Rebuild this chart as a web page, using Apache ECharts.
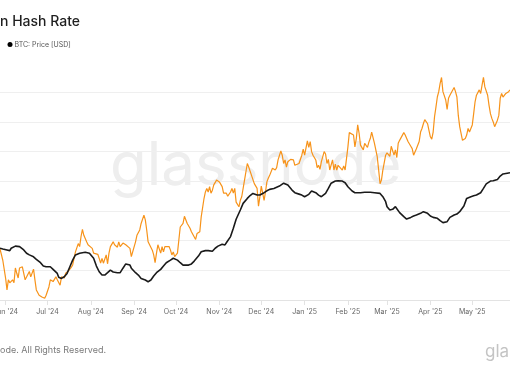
<!DOCTYPE html>
<html>
<head>
<meta charset="utf-8">
<script src="https://cdn.jsdelivr.net/npm/echarts@6/dist/echarts.min.js"></script>
<style>
html,body{margin:0;padding:0;background:#fff;}
#chart{width:510px;height:369px;}
</style>
</head>
<body>
<div id="chart"></div>
<script>
// ---- data ----
const titleText = "n Hash Rate";
const priceName = "BTC: Price [USD]";
const footerText = "ode. All Rights Reserved.";
const logoText = "gla";
const watermarkText = "glassnode";
const monthNames = ["Jan","Feb","Mar","Apr","May","Jun","Jul","Aug","Sep","Oct","Nov","Dec"];
const xRange = ["2024-05-28", "2025-05-28"];
const hashAxis = [550, 950, 50];      // EH/s, hidden labels
const priceAxis = [45000, 145000];    // USD, hidden labels

// Bitcoin hash rate (EH/s)
const hashRate = [
["2024-05-28",636],["2024-05-30",617],["2024-06-01",587],["2024-06-02",567],["2024-06-03",584],["2024-06-04",579],
["2024-06-06",584],["2024-06-07",579],["2024-06-08",604],["2024-06-09",595],["2024-06-10",587],["2024-06-11",604],
["2024-06-13",606],["2024-06-14",595],["2024-06-15",584],["2024-06-16",584],["2024-06-18",598],["2024-06-19",589],
["2024-06-21",602],["2024-06-22",584],["2024-06-23",567],["2024-06-25",558],["2024-06-27",555],["2024-06-29",553],
["2024-06-30",558],["2024-07-02",572],["2024-07-03",584],["2024-07-04",587],["2024-07-05",581],["2024-07-07",589],
["2024-07-08",584],["2024-07-10",575],["2024-07-11",589],["2024-07-13",587],["2024-07-14",595],["2024-07-16",599],
["2024-07-18",605],["2024-07-19",609],["2024-07-21",631],["2024-07-23",645],["2024-07-24",640],["2024-07-25",657],
["2024-07-26",669],["2024-07-27",659],["2024-07-29",648],["2024-07-30",643],["2024-07-31",645],["2024-08-02",637],
["2024-08-03",629],["2024-08-04",627],["2024-08-06",627],["2024-08-07",620],["2024-08-08",612],["2024-08-09",620],
["2024-08-10",612],["2024-08-12",626],["2024-08-13",611],["2024-08-14",629],["2024-08-15",640],["2024-08-17",648],
["2024-08-18",643],["2024-08-20",639],["2024-08-21",648],["2024-08-22",640],["2024-08-24",646],["2024-08-26",643],
["2024-08-27",645],["2024-08-29",637],["2024-08-30",623],["2024-08-31",620],["2024-09-02",648],["2024-09-03",659],
["2024-09-04",657],["2024-09-05",668],["2024-09-06",679],["2024-09-08",693],["2024-09-09",685],["2024-09-10",668],
["2024-09-11",648],["2024-09-12",646],["2024-09-14",634],["2024-09-15",626],["2024-09-16",613],["2024-09-17",629],
["2024-09-18",643],["2024-09-20",629],["2024-09-21",640],["2024-09-22",631],["2024-09-23",640],["2024-09-24",637],
["2024-09-26",640],["2024-09-27",634],["2024-09-28",626],["2024-09-29",631],["2024-09-30",623],["2024-10-02",629],
["2024-10-03",651],["2024-10-04",673],["2024-10-06",679],["2024-10-07",691],["2024-10-08",688],["2024-10-09",679],
["2024-10-10",682],["2024-10-11",671],["2024-10-12",665],["2024-10-13",662],["2024-10-15",652],["2024-10-16",662],
["2024-10-17",665],["2024-10-18",665],["2024-10-19",690],["2024-10-21",721],["2024-10-22",732],["2024-10-23",738],
["2024-10-24",732],["2024-10-25",741],["2024-10-26",730],["2024-10-27",735],["2024-10-28",744],["2024-10-30",752],
["2024-10-31",755],["2024-11-01",749],["2024-11-03",741],["2024-11-04",730],["2024-11-05",727],["2024-11-06",730],
["2024-11-07",725],["2024-11-09",732],["2024-11-10",738],["2024-11-11",730],["2024-11-12",738],["2024-11-13",715],
["2024-11-15",707],["2024-11-16",718],["2024-11-17",724],["2024-11-18",727],["2024-11-19",752],["2024-11-21",780],
["2024-11-22",774],["2024-11-24",760],["2024-11-25",763],["2024-11-26",746],["2024-11-27",744],["2024-11-28",738],
["2024-11-29",708],["2024-11-30",724],["2024-12-01",742],["2024-12-03",718],["2024-12-04",732],["2024-12-05",749],
["2024-12-06",755],["2024-12-07",760],["2024-12-09",772],["2024-12-10",773],["2024-12-11",769],["2024-12-12",773],
["2024-12-13",786],["2024-12-15",801],["2024-12-16",794],["2024-12-17",780],["2024-12-18",786],["2024-12-19",774],
["2024-12-20",783],["2024-12-22",787],["2024-12-24",786],["2024-12-25",777],["2024-12-26",776],["2024-12-28",780],
["2024-12-29",777],["2024-12-30",794],["2024-12-31",804],["2025-01-01",794],["2025-01-03",818],["2025-01-04",807],
["2025-01-05",817],["2025-01-06",800],["2025-01-07",794],["2025-01-09",786],["2025-01-10",773],["2025-01-11",777],
["2025-01-12",770],["2025-01-13",783],["2025-01-15",800],["2025-01-16",796],["2025-01-17",780],["2025-01-18",787],
["2025-01-19",769],["2025-01-21",786],["2025-01-22",769],["2025-01-23",779],["2025-01-24",769],["2025-01-25",777],
["2025-01-26",774],["2025-01-28",769],["2025-01-29",776],["2025-01-30",769],["2025-01-31",769],["2025-02-01",808],
["2025-02-02",832],["2025-02-03",833],["2025-02-05",828],["2025-02-06",808],["2025-02-07",822],["2025-02-08",845],
["2025-02-09",831],["2025-02-10",811],["2025-02-11",808],["2025-02-12",803],["2025-02-13",814],["2025-02-15",807],
["2025-02-16",816],["2025-02-17",822],["2025-02-18",833],["2025-02-19",835],["2025-02-20",814],["2025-02-22",791],
["2025-02-23",769],["2025-02-24",746],["2025-02-25",752],["2025-02-26",769],["2025-02-28",794],["2025-03-01",798],
["2025-03-03",792],["2025-03-04",809],["2025-03-06",794],["2025-03-07",803],["2025-03-08",790],["2025-03-09",814],
["2025-03-10",819],["2025-03-13",832],["2025-03-14",828],["2025-03-15",826],["2025-03-16",817],["2025-03-18",809],
["2025-03-19",805],["2025-03-20",794],["2025-03-21",794],["2025-03-22",805],["2025-03-24",817],["2025-03-25",833],
["2025-03-26",839],["2025-03-27",847],["2025-03-28",854],["2025-03-30",847],["2025-03-31",836],["2025-04-01",825],
["2025-04-02",821],["2025-04-03",833],["2025-04-04",859],["2025-04-05",875],["2025-04-06",892],["2025-04-07",901],
["2025-04-08",915],["2025-04-09",925],["2025-04-10",901],["2025-04-12",887],["2025-04-13",871],["2025-04-14",890],
["2025-04-15",895],["2025-04-16",898],["2025-04-18",908],["2025-04-19",901],["2025-04-20",892],["2025-04-21",861],
["2025-04-22",842],["2025-04-24",819],["2025-04-25",817],["2025-04-26",822],["2025-04-27",828],["2025-04-28",839],
["2025-04-29",833],["2025-05-01",845],["2025-05-02",864],["2025-05-03",884],["2025-05-04",895],["2025-05-06",904],
["2025-05-07",898],["2025-05-08",912],["2025-05-09",925],["2025-05-10",909],["2025-05-12",895],["2025-05-13",878],
["2025-05-14",864],["2025-05-15",856],["2025-05-16",850],["2025-05-17",842],["2025-05-19",853],["2025-05-20",861],
["2025-05-21",890],["2025-05-22",898],["2025-05-23",892],["2025-05-25",898],["2025-05-27",901],["2025-05-28",904]
];

// BTC price (USD)
const btcPrice = [
["2024-05-28",66800],["2024-05-30",66500],["2024-06-02",66100],["2024-06-04",65800],["2024-06-05",66800],["2024-06-08",67700],
["2024-06-09",68500],["2024-06-11",67500],["2024-06-14",66100],["2024-06-16",64700],["2024-06-18",64000],["2024-06-21",63200],
["2024-06-23",62100],["2024-06-26",60700],["2024-06-28",59300],["2024-06-30",59000],["2024-07-03",59000],["2024-07-05",57900],
["2024-07-08",56200],["2024-07-09",54600],["2024-07-11",54100],["2024-07-13",54800],["2024-07-15",56200],["2024-07-17",59000],
["2024-07-19",61800],["2024-07-21",64000],["2024-07-24",64700],["2024-07-28",65100],["2024-07-31",64700],["2024-08-03",62600],
["2024-08-05",59300],["2024-08-07",56900],["2024-08-09",55500],["2024-08-11",55500],["2024-08-13",56500],["2024-08-15",57600],
["2024-08-17",56800],["2024-08-20",56500],["2024-08-22",56500],["2024-08-24",58400],["2024-08-26",60200],["2024-08-29",59700],
["2024-08-30",58400],["2024-09-02",56500],["2024-09-04",55500],["2024-09-06",54100],["2024-09-09",53400],["2024-09-11",52700],
["2024-09-13",53400],["2024-09-15",55100],["2024-09-17",56500],["2024-09-20",57900],["2024-09-22",59300],["2024-09-24",60700],
["2024-09-27",61800],["2024-09-29",62600],["2024-10-02",61800],["2024-10-04",60700],["2024-10-06",59700],["2024-10-10",59700],
["2024-10-12",60200],["2024-10-14",61400],["2024-10-17",63500],["2024-10-19",65300],["2024-10-22",65800],["2024-10-24",65800],
["2024-10-27",65500],["2024-10-29",66800],["2024-10-31",67700],["2024-11-03",68500],["2024-11-05",68200],["2024-11-06",69100],
["2024-11-09",71700],["2024-11-11",75200],["2024-11-13",79000],["2024-11-16",82900],["2024-11-18",85700],["2024-11-21",87800],
["2024-11-23",89000],["2024-11-25",89900],["2024-11-28",89200],["2024-11-30",89200],["2024-12-03",90200],["2024-12-05",91000],
["2024-12-07",91600],["2024-12-10",92000],["2024-12-12",92500],["2024-12-14",93000],["2024-12-17",94200],["2024-12-18",94400],
["2024-12-20",93400],["2024-12-23",91300],["2024-12-25",90200],["2024-12-28",89600],["2024-12-30",89200],["2025-01-01",88500],
["2025-01-04",89500],["2025-01-06",90900],["2025-01-09",90200],["2025-01-11",89200],["2025-01-13",88500],["2025-01-16",89900],
["2025-01-18",92000],["2025-01-20",94200],["2025-01-23",95100],["2025-01-25",95200],["2025-01-28",95100],["2025-01-30",94400],
["2025-02-01",92700],["2025-02-04",90900],["2025-02-06",90200],["2025-02-10",90200],["2025-02-13",90400],["2025-02-17",90400],
["2025-02-20",90200],["2025-02-24",89900],["2025-02-26",88500],["2025-02-28",86400],["2025-03-01",84300],["2025-03-03",82900],
["2025-03-05",83200],["2025-03-07",84300],["2025-03-08",83600],["2025-03-10",81800],["2025-03-13",80100],["2025-03-15",79100],
["2025-03-18",79800],["2025-03-20",80400],["2025-03-22",80800],["2025-03-25",81500],["2025-03-27",82200],["2025-03-30",81500],
["2025-04-01",80400],["2025-04-03",79800],["2025-04-06",79400],["2025-04-08",78400],["2025-04-10",77600],["2025-04-13",78000],
["2025-04-15",79800],["2025-04-18",80800],["2025-04-20",81200],["2025-04-22",82200],["2025-04-25",84600],["2025-04-27",87800],
["2025-04-30",88500],["2025-05-02",88900],["2025-05-04",89200],["2025-05-07",90200],["2025-05-09",92000],["2025-05-11",93900],
["2025-05-14",95100],["2025-05-16",95200],["2025-05-19",95800],["2025-05-21",97200],["2025-05-23",98100],["2025-05-26",98400],
["2025-05-28",98600]
];

// ---- chart ----
const FONT = "Inter, 'Noto Sans', sans-serif";
const chart = echarts.init(document.getElementById('chart'), null, {renderer: 'canvas'});
const DAY = 86400000;

chart.setOption({
  animation: false,
  backgroundColor: '#ffffff',
  textStyle: {fontFamily: FONT},
  title: {
    text: titleText,
    left: 0, top: 15, padding: 0,
    textStyle: {fontFamily: FONT, fontSize: 14, fontWeight: 500, color: '#1f1f1f'}
  },
  legend: {
    data: [priceName],
    left: 7.5, top: 41, padding: 0,
    icon: 'circle', itemWidth: 5, itemHeight: 5,
    textStyle: {fontFamily: FONT, fontSize: 7, color: '#555', padding: [0, 0, 0, -3]}
  },
  graphic: [
    {type: 'text', left: 110, top: 137, z: 0, silent: true,
     style: {text: watermarkText, fontFamily: FONT, fontSize: 60, fontWeight: 400, fill: '#eeeeee'}},
    {type: 'text', left: 0, top: 346, silent: true,
     style: {text: footerText, fontFamily: FONT, fontSize: 9, fill: '#7a7a7a'}},
    {type: 'text', left: 485, top: 343, silent: true,
     style: {text: logoText, fontFamily: FONT, fontSize: 17, fill: '#c4c4c4'}}
  ],
  grid: {left: 0, right: 0, top: 62.6, bottom: 69, containLabel: false, outerBoundsMode: 'none'},
  xAxis: {
    type: 'time',
    min: xRange[0], max: xRange[1],
    splitNumber: 12,
    minInterval: 28 * DAY,
    maxInterval: 31 * DAY,
    axisLine: {show: true, lineStyle: {color: '#e3e3e3', width: 1}},
    axisTick: {show: true, length: 5, lineStyle: {color: '#e3e3e3'}},
    splitLine: {show: false},
    axisLabel: {
      fontFamily: FONT, fontSize: 7, color: '#666', margin: 8,
      showMinLabel: false, showMaxLabel: false,
      formatter: function (v) {
        const d = new Date(v);
        return monthNames[d.getMonth()] + " '" + String(d.getFullYear()).slice(2);
      }
    }
  },
  yAxis: [
    {type: 'value', min: hashAxis[0], max: hashAxis[1], interval: hashAxis[2],
     axisLine: {show: false}, axisTick: {show: false}, axisLabel: {show: false},
     splitLine: {show: true, showMaxLine: false, lineStyle: {color: '#efefef', width: 1}}},
    {type: 'value', min: priceAxis[0], max: priceAxis[1],
     axisLine: {show: false}, axisTick: {show: false}, axisLabel: {show: false},
     splitLine: {show: false}}
  ],
  series: [
    {name: 'Hash Rate', type: 'line', yAxisIndex: 0, data: hashRate,
     showSymbol: false, symbol: 'none', z: 3,
     lineStyle: {color: '#f7931a', width: 1.2}, itemStyle: {color: '#f7931a'}},
    {name: priceName, type: 'line', yAxisIndex: 1, data: btcPrice,
     showSymbol: false, symbol: 'none', z: 4,
     lineStyle: {color: '#1a1a1a', width: 1.6}, itemStyle: {color: '#000000'}}
  ]
});
</script>
</body>
</html>
